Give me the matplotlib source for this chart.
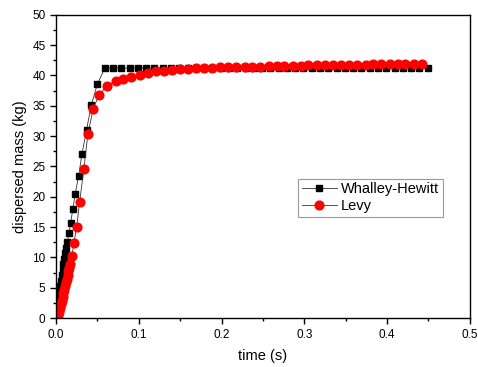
import matplotlib
matplotlib.use("Agg")
import matplotlib.pyplot as plt
from matplotlib.ticker import MultipleLocator

plt.rcParams['font.family'] = ['Liberation Sans', 'DejaVu Sans']

# Whalley-Hewitt (black squares)
t_wh = [0.0, 0.0005, 0.001, 0.0015, 0.002, 0.003, 0.004, 0.005, 0.006, 0.007,
        0.008, 0.009, 0.010, 0.011, 0.012, 0.0137, 0.016, 0.0177, 0.0205, 0.0233,
        0.0274, 0.0314, 0.037, 0.0427, 0.0499,
        0.059, 0.069, 0.079, 0.089, 0.099, 0.109, 0.119, 0.129, 0.139, 0.149,
        0.159, 0.169, 0.179, 0.189, 0.199, 0.209, 0.219, 0.229, 0.239, 0.249,
        0.259, 0.269, 0.279, 0.289, 0.299, 0.309, 0.319, 0.329, 0.339, 0.349,
        0.359, 0.369, 0.379, 0.389, 0.399, 0.409, 0.419, 0.429, 0.439, 0.449]
m_wh = [0.0, 0.6, 1.2, 1.8, 2.4, 3.4, 4.4, 5.3, 6.2, 7.1,
        8.0, 8.9, 9.8, 10.7, 11.6, 12.6, 14.0, 15.75, 18.0, 20.5,
        23.4, 27.0, 31.05, 35.1, 38.5,
        41.2, 41.2, 41.2, 41.2, 41.2, 41.2, 41.2, 41.2, 41.2, 41.2,
        41.2, 41.2, 41.2, 41.2, 41.2, 41.2, 41.2, 41.2, 41.2, 41.2,
        41.2, 41.2, 41.2, 41.2, 41.2, 41.2, 41.2, 41.2, 41.2, 41.2,
        41.2, 41.2, 41.2, 41.2, 41.2, 41.2, 41.2, 41.2, 41.2, 41.2]

# Levy (red circles)
t_levy = [0.002, 0.003, 0.004, 0.005, 0.006, 0.007, 0.008, 0.009, 0.010, 0.011,
          0.012, 0.013, 0.014, 0.015, 0.016, 0.0169, 0.0193, 0.0217, 0.025, 0.0286,
          0.0336, 0.0387, 0.045, 0.0523,
          0.062, 0.072, 0.081, 0.091, 0.101, 0.111, 0.121, 0.130, 0.140, 0.150,
          0.160, 0.169, 0.179, 0.189, 0.198, 0.208, 0.218, 0.228, 0.237, 0.247,
          0.257, 0.267, 0.276, 0.286, 0.296, 0.305, 0.315, 0.325, 0.335, 0.344,
          0.354, 0.364, 0.374, 0.383, 0.393, 0.403, 0.413, 0.422, 0.432, 0.442]
m_levy = [0.0, 0.5, 1.1, 1.7, 2.3, 2.9, 3.5, 4.1, 4.7, 5.3,
          5.9, 6.5, 7.1, 7.7, 8.3, 8.95, 10.3, 12.35, 15.0, 19.1,
          24.5, 30.4, 34.5, 36.85,
          38.25, 39.0, 39.45, 39.8, 40.1, 40.4, 40.65, 40.8, 40.95, 41.05,
          41.1, 41.15, 41.2, 41.25, 41.3, 41.33, 41.36, 41.4, 41.43, 41.46,
          41.5, 41.52, 41.55, 41.58, 41.6, 41.63, 41.65, 41.67, 41.7, 41.72,
          41.74, 41.76, 41.78, 41.8, 41.82, 41.84, 41.86, 41.88, 41.9, 41.92]

fig = plt.figure(figsize=(4.78, 3.67), dpi=100)
ax = fig.add_axes([0.117, 0.133, 0.866, 0.827])

ax.plot(t_wh, m_wh, color='#333333', lw=0.6, marker='s', ms=4.8,
        mfc='black', mec='black', label='Whalley-Hewitt')
ax.plot(t_levy, m_levy, color='#333333', lw=0.6, marker='o', ms=6.3,
        mfc='red', mec='red', label='Levy')

ax.set_xlim(0, 0.5)
ax.set_ylim(0, 50)
ax.xaxis.set_major_locator(MultipleLocator(0.1))
ax.xaxis.set_minor_locator(MultipleLocator(0.05))
ax.yaxis.set_major_locator(MultipleLocator(5))
ax.yaxis.set_minor_locator(MultipleLocator(2.5))
ax.tick_params(which='major', direction='out', length=4, width=1, labelsize=8.5)
ax.tick_params(which='minor', direction='out', length=2.5, width=1)
for s in ax.spines.values():
    s.set_linewidth(1.0)

ax.set_xlabel('time (s)', fontsize=10.5, labelpad=6)
ax.set_ylabel('dispersed mass (kg)', fontsize=10.5, labelpad=4)

leg = ax.legend(loc='upper left', bbox_to_anchor=(0.585, 0.46), fontsize=10.5,
                frameon=True, fancybox=False, edgecolor='gray', handlelength=2.4,
                borderpad=0.25, labelspacing=0.2, handletextpad=0.3,
                borderaxespad=0)
leg.get_frame().set_linewidth(0.8)

fig.savefig('out.png', dpi=100)
